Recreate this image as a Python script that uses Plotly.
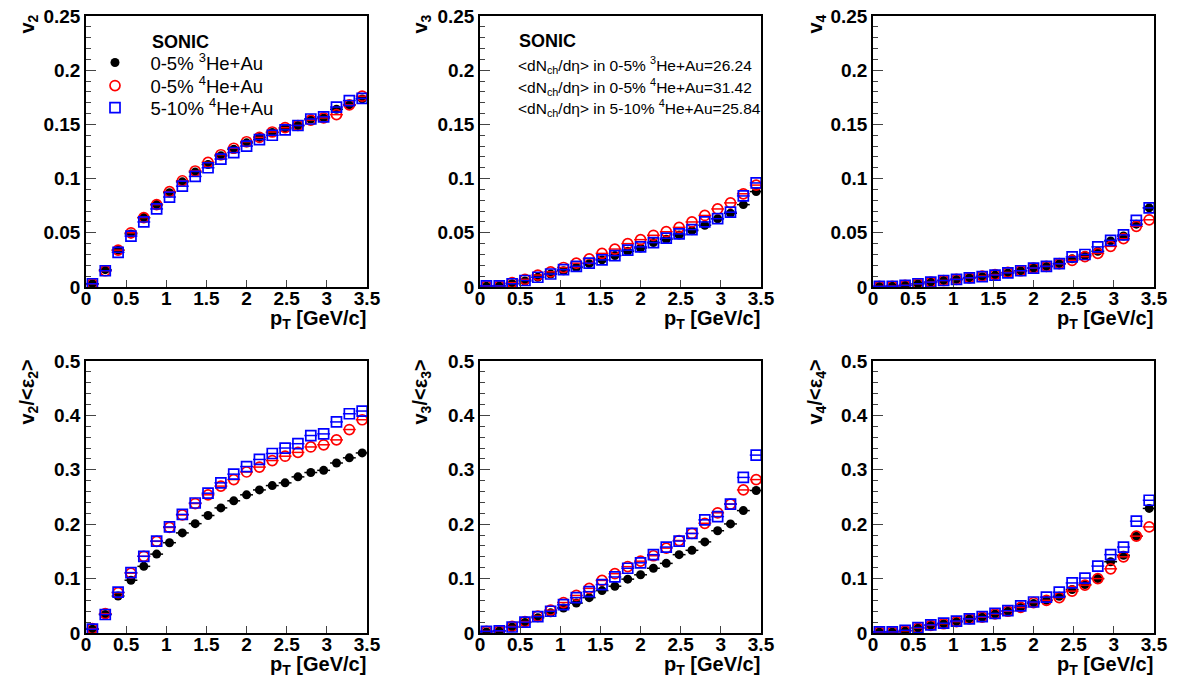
import plotly.graph_objects as go

# ---------------- data ----------------
pt = [0.08, 0.24, 0.40, 0.56, 0.72, 0.88, 1.04, 1.20, 1.36, 1.52, 1.68,
      1.84, 2.00, 2.16, 2.32, 2.48, 2.64, 2.80, 2.96, 3.12, 3.28, 3.44]
pt_halfwidth = [0.08] * len(pt)

series_names = ["0-5% <sup>3</sup>He+Au", "0-5% <sup>4</sup>He+Au", "5-10% <sup>4</sup>He+Au"]

v2_he3_0_5 = [0.003, 0.016, 0.034, 0.049, 0.064, 0.076, 0.087, 0.097, 0.106, 0.113, 0.121,
              0.127, 0.133, 0.138, 0.1425, 0.1465, 0.149, 0.155, 0.156, 0.164, 0.168, 0.1735]
v2_he4_0_5 = [0.003, 0.015, 0.034, 0.050, 0.064, 0.076, 0.088, 0.098, 0.107, 0.115, 0.122,
              0.128, 0.134, 0.138, 0.143, 0.147, 0.149, 0.154, 0.156, 0.159, 0.168, 0.176]
v2_he4_5_10 = [0.003, 0.015, 0.032, 0.047, 0.060, 0.072, 0.083, 0.093, 0.102, 0.110, 0.118,
               0.124, 0.130, 0.136, 0.140, 0.145, 0.149, 0.155, 0.157, 0.166, 0.172, 0.174]

v3_he3_0_5 = [0.0006, 0.001, 0.003, 0.0055, 0.009, 0.012, 0.015, 0.018, 0.0215, 0.025, 0.029,
              0.033, 0.036, 0.041, 0.044, 0.048, 0.052, 0.057, 0.063, 0.068, 0.076, 0.088]
v3_he4_0_5 = [0.001, 0.001, 0.004, 0.007, 0.011, 0.014, 0.018, 0.022, 0.026, 0.031, 0.035,
              0.040, 0.0437, 0.0477, 0.051, 0.055, 0.060, 0.066, 0.072, 0.0776, 0.086, 0.094]
v3_he4_5_10 = [0.001, 0.001, 0.003, 0.006, 0.009, 0.012, 0.016, 0.019, 0.022, 0.025, 0.029,
               0.034, 0.037, 0.041, 0.045, 0.049, 0.053, 0.060, 0.063, 0.069, 0.084, 0.096]

v4_he3_0_5 = [0.0005, 0.0007, 0.0015, 0.003, 0.0045, 0.006, 0.007, 0.0085, 0.0095, 0.011, 0.013,
              0.015, 0.0175, 0.019, 0.0215, 0.026, 0.029, 0.033, 0.0425, 0.047, 0.058, 0.073]
v4_he4_0_5 = [0.0005, 0.0007, 0.0015, 0.003, 0.0045, 0.006, 0.007, 0.0085, 0.010, 0.0115, 0.0135,
              0.015, 0.0175, 0.019, 0.0215, 0.0246, 0.028, 0.031, 0.0375, 0.0446, 0.056, 0.062]
v4_he4_5_10 = [0.0005, 0.0007, 0.0015, 0.003, 0.0045, 0.006, 0.007, 0.0085, 0.0095, 0.011, 0.013,
               0.015, 0.0175, 0.019, 0.0215, 0.0277, 0.030, 0.037, 0.043, 0.048, 0.0615, 0.073]

r2_he3_0_5 = [0.007, 0.034, 0.068, 0.097, 0.1225, 0.145, 0.166, 0.184, 0.201, 0.216, 0.230,
              0.243, 0.254, 0.263, 0.271, 0.276, 0.287, 0.295, 0.299, 0.3125, 0.322, 0.331]
r2_he4_0_5 = [0.008, 0.0355, 0.074, 0.110, 0.141, 0.1685, 0.194, 0.217, 0.238, 0.254, 0.270,
              0.282, 0.296, 0.305, 0.317, 0.325, 0.332, 0.342, 0.346, 0.355, 0.374, 0.392]
r2_he4_5_10 = [0.007, 0.034, 0.075, 0.111, 0.141, 0.169, 0.195, 0.218, 0.239, 0.257, 0.276,
               0.292, 0.306, 0.319, 0.330, 0.340, 0.348, 0.363, 0.366, 0.388, 0.403, 0.408]

r3_he3_0_5 = [0.002, 0.004, 0.011, 0.0195, 0.028, 0.037, 0.046, 0.055, 0.065, 0.078, 0.086,
              0.099, 0.107, 0.119, 0.128, 0.144, 0.152, 0.1675, 0.188, 0.2005, 0.225, 0.262]
r3_he4_0_5 = [0.003, 0.004, 0.012, 0.021, 0.031, 0.042, 0.056, 0.069, 0.082, 0.0966, 0.109,
              0.122, 0.132, 0.142, 0.156, 0.170, 0.183, 0.2017, 0.221, 0.237, 0.263, 0.282]
r3_he4_5_10 = [0.003, 0.004, 0.011, 0.020, 0.030, 0.040, 0.052, 0.065, 0.076, 0.089, 0.103,
               0.119, 0.129, 0.144, 0.158, 0.169, 0.183, 0.208, 0.214, 0.237, 0.286, 0.327]

r4_he3_0_5 = [0.002, 0.002, 0.004, 0.009, 0.014, 0.017, 0.021, 0.026, 0.029, 0.035, 0.040,
              0.047, 0.054, 0.060, 0.0675, 0.080, 0.089, 0.100, 0.131, 0.143, 0.178, 0.229]
r4_he4_0_5 = [0.002, 0.002, 0.004, 0.009, 0.014, 0.017, 0.021, 0.026, 0.029, 0.035, 0.040,
              0.047, 0.056, 0.060, 0.065, 0.077, 0.088, 0.100, 0.118, 0.140, 0.178, 0.195]
r4_he4_5_10 = [0.002, 0.002, 0.005, 0.010, 0.015, 0.018, 0.022, 0.026, 0.030, 0.036, 0.041,
               0.050, 0.057, 0.066, 0.075, 0.092, 0.101, 0.123, 0.144, 0.158, 0.2055, 0.244]

panels = [
    ("v<sub>2</sub>", [v2_he3_0_5, v2_he4_0_5, v2_he4_5_10], 0.25),
    ("v<sub>3</sub>", [v3_he3_0_5, v3_he4_0_5, v3_he4_5_10], 0.25),
    ("v<sub>4</sub>", [v4_he3_0_5, v4_he4_0_5, v4_he4_5_10], 0.25),
    ("v<sub>2</sub>/<ε<sub>2</sub>>", [r2_he3_0_5, r2_he4_0_5, r2_he4_5_10], 0.5),
    ("v<sub>3</sub>/<ε<sub>3</sub>>", [r3_he3_0_5, r3_he4_0_5, r3_he4_5_10], 0.5),
    ("v<sub>4</sub>/<ε<sub>4</sub>>", [r4_he3_0_5, r4_he4_0_5, r4_he4_5_10], 0.5),
]

mult_lines = ["<dN<sub>ch</sub>/dη> in 0-5% <sup>3</sup>He+Au=26.24",
              "<dN<sub>ch</sub>/dη> in 0-5% <sup>4</sup>He+Au=31.42",
              "<dN<sub>ch</sub>/dη> in 5-10% <sup>4</sup>He+Au=25.84"]

# ---------------- layout geometry (pixels) ----------------
W, H = 1182, 690
col_px = [(86, 367), (480, 761), (873, 1154)]
row_px = [(16, 287), (361, 633)]
ytitle_x = [28, 421, 816]
legend_rows_px = [63, 86, 108]

styles = [
    dict(symbol="circle", color="black", size=9, lw=0),
    dict(symbol="circle-open", color="#ff0000", size=10, lw=1.7),
    dict(symbol="square-open", color="#0000ff", size=10, lw=1.7),
]

FONT = "Liberation Sans, Arial, Helvetica, sans-serif"
NBSP = "\u00a0"

fig = go.Figure()
annotations = []
legend_ids = ["legend", "legend2", "legend3"]

for i, (ytitle, series, ymax) in enumerate(panels):
    r, c = divmod(i, 3)
    n = i + 1
    xs = "" if n == 1 else str(n)
    x0, x1 = col_px[c]
    y0, y1 = row_px[r]
    xd = [x0 / W, x1 / W]
    yd = [1 - y1 / H, 1 - y0 / H]
    for k, ys in enumerate(series):
        st = styles[k]
        fig.add_trace(go.Scatter(
            x=pt, y=ys, mode="markers",
            xaxis="x" + xs, yaxis="y" + xs,
            name=NBSP * 3 + series_names[k], showlegend=(i == 0),
            legend=legend_ids[k],
            marker=dict(symbol=st["symbol"], size=st["size"], color=st["color"],
                        line=dict(width=st["lw"], color=st["color"])),
            error_x=dict(type="data", array=pt_halfwidth, width=0,
                         thickness=1.5, color=st["color"]),
            hoverinfo="x+y",
        ))
    axcommon = dict(showline=True, linecolor="black", linewidth=1.5, mirror=True,
                    showgrid=False, zeroline=False, ticks="inside", automargin=False,
                    tickfont=dict(family=FONT, size=19, color="black", weight="bold"))
    fig.layout["xaxis" + xs] = dict(
        domain=xd, anchor="y" + xs, range=[0, 3.5], dtick=0.5, tick0=0,
        ticklen=7, tickwidth=1.3, ticklabelstandoff=-7, **axcommon)
    fig.layout["yaxis" + xs] = dict(
        domain=yd, anchor="x" + xs, range=[0, ymax], dtick=ymax / 5, tick0=0,
        ticklen=10, tickwidth=1.3,
        minor=dict(ticks="inside", dtick=ymax / 25, ticklen=5, tickwidth=1, showgrid=False),
        **axcommon)
    # x title
    annotations.append(dict(
        text="p<sub>T</sub> [GeV/c]", xref="paper", yref="paper",
        x=(x1 + 1) / W, y=1 - (y1 + 18) / H, xanchor="right", yanchor="top",
        showarrow=False, font=dict(family=FONT, size=20, color="black", weight="bold")))
    # y title
    annotations.append(dict(
        text=ytitle, xref="paper", yref="paper", textangle=-90,
        x=ytitle_x[c] / W, y=1 - (y0 - 3) / H, xanchor="center", yanchor="top",
        showarrow=False, font=dict(family=FONT, size=20, color="black", weight="bold")))

# SONIC header of the legend in panel 1
annotations.append(dict(
    text="SONIC", xref="paper", yref="paper", x=150 / W, y=1 - 42 / H,
    xanchor="left", yanchor="middle", showarrow=False,
    font=dict(family=FONT, size=18, color="black", weight="bold")))

# SONIC text in panel 2
annotations.append(dict(
    text="SONIC", xref="paper", yref="paper", x=517 / W, y=1 - 41 / H,
    xanchor="left", yanchor="middle", showarrow=False,
    font=dict(family=FONT, size=18, color="black", weight="bold")))
for j, line in enumerate(mult_lines):
    annotations.append(dict(
        text=line, xref="paper", yref="paper", x=516 / W, y=1 - (65 + 21.7 * j) / H,
        xanchor="left", yanchor="middle", showarrow=False,
        font=dict(family=FONT, size=15.5, color="black")))

legend_common = dict(xanchor="left", yanchor="middle", bgcolor="rgba(0,0,0,0)",
                     borderwidth=0, itemwidth=30,
                     font=dict(family=FONT, size=18.5, color="black"))
layout_legends = {}
for k, lid in enumerate(legend_ids):
    layout_legends[lid] = dict(x=95 / W, y=1 - legend_rows_px[k] / H, **legend_common)

fig.update_layout(
    width=W, height=H, margin=dict(l=0, r=0, t=0, b=0, autoexpand=False),
    paper_bgcolor="white", plot_bgcolor="white",
    annotations=annotations,
    showlegend=True,
    **layout_legends,
)

fig.write_html("out.html")
